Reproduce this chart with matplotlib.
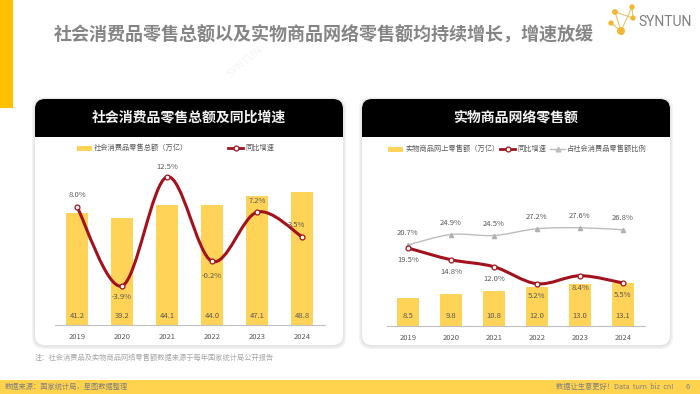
import numpy as np
import matplotlib
matplotlib.use("Agg")
import matplotlib.pyplot as plt
from matplotlib.patches import FancyBboxPatch, Rectangle, PathPatch
from matplotlib.path import Path

plt.rcParams['font.family'] = ['Noto Sans CJK SC', 'DejaVu Sans']

# 数据
years = ['2019', '2020', '2021', '2022', '2023', '2024']
retail_total = [41.2, 39.2, 44.1, 44.0, 47.1, 48.8]          # 社会消费品零售总额（万亿）
retail_growth = [8.0, -3.9, 12.5, -0.2, 7.2, 3.5]            # 同比增速 %
online_sales = [8.5, 9.8, 10.8, 12.0, 13.0, 13.1]            # 实物商品网上零售额（万亿）
online_growth = [19.5, 14.8, 12.0, 5.2, 8.4, 5.5]            # 同比增速 %
online_share = [20.7, 24.9, 24.5, 27.2, 27.6, 26.8]          # 占社会消费品零售额比例 %

YELLOW = '#FFD357'
RED = '#A3121C'
GRAY_LINE = '#BDBDBD'
TXT = '#595959'


def smooth_path(xs, ys):
    # 平滑曲线 (Catmull-Rom -> Bezier)
    pts = np.column_stack([xs, ys]).astype(float)
    n = len(pts)
    verts = [pts[0]]
    codes = [Path.MOVETO]
    for i in range(n - 1):
        p0 = pts[i - 1] if i > 0 else pts[i]
        p1, p2 = pts[i], pts[i + 1]
        p3 = pts[i + 2] if i + 2 < n else pts[i + 1]
        verts += [p1 + (p2 - p0) / 6, p2 - (p3 - p1) / 6, p2]
        codes += [Path.CURVE4] * 3
    return Path(verts, codes)


fig = plt.figure(figsize=(7, 3.94), dpi=100)

# 背景层，像素坐标
bg = fig.add_axes([0, 0, 1, 1], zorder=-10)
bg.set_xlim(0, 700)
bg.set_ylim(394, 0)
bg.axis('off')

bg.add_patch(Rectangle((0, 0), 13, 108, color='#FFC000', lw=0))
bg.add_patch(Rectangle((0, 380), 700, 14, color='#FFD34E', lw=0))

bg.text(54, 35, '社会消费品零售总额以及实物商品网络零售额均持续增长，增速放缓',
        fontsize=13, fontweight='bold', color='#858585', va='center', ha='left')

# logo
nodes = np.array([[615, 12], [632, 7], [611, 23], [633, 18], [621, 31]])
for a, b in [(0, 4), (1, 4), (0, 3), (1, 3), (2, 4)]:
    bg.plot(nodes[[a, b], 0], nodes[[a, b], 1], color='#E8C46A', lw=0.8)
bg.scatter(nodes[:, 0], nodes[:, 1], s=[10, 8, 8, 8, 22], color='#F2B632', zorder=3)
bg.text(638, 22, 'SYNTUN', fontsize=10, color='#7F7F7F', family='Roboto',
        va='center', ha='left')
bg.text(245, 62, 'SYNTUN', fontsize=8, color='#F5F5F5', rotation=40,
        ha='center', va='center')

# 卡片
def card(x0, title):
    w, y0, h = 308, 99, 246
    for d, c in [(3, '#F3F3F3'), (1.5, '#E6E6E6')]:
        bg.add_patch(FancyBboxPatch((x0 - d, y0 - d + 1), w + 2 * d, h + 2 * d,
                                    boxstyle='round,pad=0,rounding_size=12',
                                    fc=c, ec='none'))
    bg.add_patch(FancyBboxPatch((x0, y0), w, h, boxstyle='round,pad=0,rounding_size=10',
                                fc='white', ec='none'))
    bg.add_patch(FancyBboxPatch((x0, y0), w, 50, boxstyle='round,pad=0,rounding_size=10',
                                fc='black', ec='none'))
    bg.add_patch(Rectangle((x0, 137), w, 14, fc='white', ec='none'))
    bg.text(x0 + w / 2, 118, title, fontsize=10, fontweight='bold', color='#F2F2F2',
            ha='center', va='center')

card(35, '社会消费品零售总额及同比增速')
card(362, '实物商品网络零售额')


def leg_patch(x, y, label):
    bg.add_patch(Rectangle((x, y - 2.5), 15, 5, fc=YELLOW, ec='none'))
    bg.text(x + 17, y, label, fontsize=5.2, color=TXT, va='center', ha='left')


def leg_line(x, y, label, color, marker, mfc, lw):
    bg.plot([x, x + 15], [y, y], color=color, lw=lw)
    bg.plot([x + 7.5], [y], marker=marker, ms=3.5, mfc=mfc, mec=color, mew=0.9)
    bg.text(x + 17, y, label, fontsize=5.2, color=TXT, va='center', ha='left')


leg_patch(77, 148, '社会消费品零售总额（万亿）')
leg_line(228, 148, '同比增速', RED, 'o', 'white', 2)
leg_patch(388, 149, '实物商品网上零售额（万亿）')
leg_line(500, 149, '同比增速', RED, 'o', 'white', 2)
leg_line(550, 149, '占社会消费品零售额比例', GRAY_LINE, '^', GRAY_LINE, 1)

bg.text(35, 358, '注：社会消费品及实物商品网络零售额数据来源于每年国家统计局公开报告',
        fontsize=5.2, color='#A6A6A6', va='center', ha='left', style='italic')
bg.text(5, 387, '数据来源：国家统计局，星图数据整理', fontsize=5.2, color='#808080',
        va='center', ha='left')
bg.text(674, 387, '数据让生意更好！Data  turn  biz  cn!', fontsize=5.2, color='#808080',
        va='center', ha='right')
bg.text(688, 387, '6', fontsize=5.5, color='#808080', va='center', ha='center')


def chart(left, right, base, top, bar_vals, bar_ppu, pct_zero):
    fw, fh = 700.0, 394.0
    ax = fig.add_axes([left / fw, 1 - base / fh, (right - left) / fw, (base - top) / fh])
    ax.patch.set_alpha(0)
    x = np.arange(len(years))
    ax.bar(x, bar_vals, width=0.5, color=YELLOW, zorder=2)
    ax.set_xlim(-0.5, len(years) - 0.5)
    ax.set_ylim(0, (base - top) / bar_ppu)
    for s in ['left', 'right', 'top']:
        ax.spines[s].set_visible(False)
    ax.spines['bottom'].set_color('#BFBFBF')
    ax.spines['bottom'].set_linewidth(0.8)
    ax.set_yticks([])
    ax.set_xticks(x)
    ax.set_xticklabels(years, fontsize=5.5, color=TXT)
    ax.tick_params(axis='x', length=0, pad=5.8)
    for xi, v in zip(x, bar_vals):
        ax.annotate(f'{v:.1f}', (xi, 0), xytext=(0, 6.5), textcoords='offset points',
                    ha='center', va='center', fontsize=5.5, color=TXT)
    ax2 = ax.twinx()
    ax2.set_ylim(-(base - pct_zero[0]) / pct_zero[1], (pct_zero[0] - top) / pct_zero[1])
    ax2.axis('off')
    return ax, ax2, x


# 左图
ax, ax2, x = chart(54.5, 324.5, 325, 160, retail_total, 2.73, (260, 6.65))
ax2.add_patch(PathPatch(smooth_path(x, retail_growth), fill=False, ec=RED, lw=2.2,
                        capstyle='round', zorder=3))
ax2.plot(x, retail_growth, 'o', ms=3.5, mfc='white', mec=RED, mew=0.9, zorder=4)
offs = [(0, 8.6), (0, -7.9), (0, 7.2), (0, -10.8), (0, 7.9), (-3.6, 8.6)]
for xi, v, o in zip(x, retail_growth, offs):
    ax2.annotate(f'{v:.1f}%', (xi, v), xytext=o, textcoords='offset points',
                 ha='center', va='center', fontsize=5.5, color=TXT)

# 右图
bx, bx2, x = chart(386.5, 644.5, 325.5, 160, online_sales, 3.22, (296.75, 2.5))
bx2.add_patch(PathPatch(smooth_path(x, online_share), fill=False, ec=GRAY_LINE, lw=1.0,
                        zorder=3))
bx2.plot(x, online_share, '^', ms=3, mfc='#B0B0B0', mec='#B0B0B0', zorder=4)
bx2.add_patch(PathPatch(smooth_path(x, online_growth), fill=False, ec=RED, lw=2.2,
                        capstyle='round', zorder=5))
bx2.plot(x, online_growth, 'o', ms=3.5, mfc='white', mec=RED, mew=0.9, zorder=6)
for xi, v in zip(x, online_share):
    bx2.annotate(f'{v:.1f}%', (xi, v), xytext=(0, 8.6), textcoords='offset points',
                 ha='center', va='center', fontsize=5.5, color=TXT)
for xi, v in zip(x, online_growth):
    bx2.annotate(f'{v:.1f}%', (xi, v), xytext=(0, -8.6), textcoords='offset points',
                 ha='center', va='center', fontsize=5.5, color=TXT)

fig.savefig('out.png', dpi=100)
